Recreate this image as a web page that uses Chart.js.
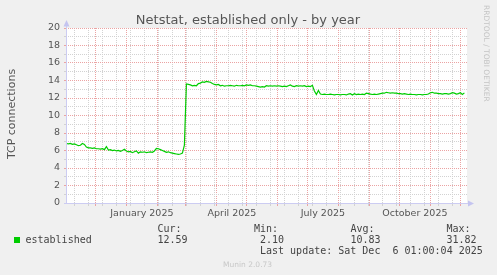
<!DOCTYPE html>
<html><head><meta charset="utf-8">
<script src="https://cdn.jsdelivr.net/npm/chart.js@4"></script>
<style>html,body{margin:0;padding:0;background:#f0f0f0;overflow:hidden}canvas{display:block}</style>
</head><body>
<canvas id="c" width="497" height="275"></canvas>
<script>
const chartTitle = 'Netstat, established only - by year';
const yAxisTitle = 'TCP connections';
const seriesName = 'established';

// samples every 2 days, day 1 = 2 Nov 2024
const valuesLate2024 = [
  6.8, 6.75, 6.8, 6.7, 6.75, 6.65, 6.55, 6.6, 6.8, 6.7,
  6.4, 6.3, 6.3, 6.25, 6.3, 6.2, 6.2, 6.15, 6.2, 6.1,
  6.45, 6.05, 6.1, 6.0, 6.05, 5.95, 6.0, 5.9, 6.0, 6.15,
  5.95, 5.85, 5.9, 5.75, 5.85, 5.95, 5.7, 5.85, 5.8, 5.85,
  5.75, 5.8, 5.85, 5.8, 5.95, 6.25, 6.2, 6.1, 6.0, 5.9,
  5.8, 5.85, 5.75, 5.7, 5.65, 5.6, 5.55, 5.6, 5.7, 6.6
];
const valuesSpring2025 = [
  13.6, 13.55, 13.5, 13.4, 13.45, 13.4, 13.65, 13.7, 13.85, 13.8,
  13.9, 13.85, 13.8, 13.65, 13.55, 13.5, 13.55, 13.4, 13.45, 13.35,
  13.4, 13.4, 13.45, 13.4, 13.35, 13.45, 13.4, 13.4, 13.45, 13.4,
  13.5, 13.45, 13.5, 13.4, 13.4, 13.35, 13.3, 13.25, 13.3, 13.25,
  13.4, 13.35, 13.4, 13.35, 13.4, 13.35, 13.4, 13.35, 13.3, 13.35,
  13.3, 13.4, 13.5, 13.35, 13.3, 13.4, 13.35, 13.4, 13.35, 13.4,
  13.3, 13.35, 13.3, 13.45, 12.8, 12.4, 12.85, 12.45
];
const valuesAutumn2025 = [
  12.4, 12.45, 12.4, 12.4, 12.45, 12.4, 12.35, 12.4, 12.4, 12.35,
  12.4, 12.4, 12.35, 12.45, 12.5, 12.35, 12.5, 12.4, 12.45, 12.4,
  12.45, 12.4, 12.55, 12.5, 12.45, 12.4, 12.45, 12.4, 12.45, 12.5,
  12.55, 12.55, 12.65, 12.6, 12.55, 12.6, 12.55, 12.55, 12.5, 12.5,
  12.45, 12.5, 12.45, 12.4, 12.45, 12.4, 12.4, 12.35, 12.4, 12.4,
  12.35, 12.4, 12.4, 12.45, 12.6, 12.65, 12.55, 12.55, 12.5, 12.5,
  12.45, 12.5, 12.5, 12.45, 12.5, 12.6, 12.55, 12.45, 12.5, 12.6,
  12.4, 12.59
];
const values = valuesLate2024.concat(valuesSpring2025, valuesAutumn2025);
const sampleDays = values.map((_, i) => 1 + 2 * i);

const yTickValues = [0,1,2,3,4,5,6,7,8,9,10,11,12,13,14,15,16,17,18,19,20];
const monthStartDays = [30, 61, 92, 120, 151, 181, 212, 242, 273, 304, 334, 365, 395];
const minorGridDays = [9,23,37,51,65,79,93,107,121,135,149,163,177,191,205,219,233,247,261,275,289,303,317,331,345,359,373,387];
const labelDays = [76.5, 166.5, 257.5, 349.5];
const labelTexts = ['January 2025', 'April 2025', 'July 2025', 'October 2025'];

const statNames = ['Cur:', 'Min:', 'Avg:', 'Max:'];
const statValues = ['12.59', '2.10', '10.83', '31.82'];
const lastUpdate = 'Last update: Sat Dec  6 01:00:04 2025';
const footer = 'Munin 2.0.73';
const sideText = 'RRDTOOL / TOBI OETIKER';

const RED = '#eba3a3';
const GRAY = '#d2d2d2';
const AXIS = '#ccccf2';
const GREEN = '#00cc00';

const decor = {
  id: 'decor',
  beforeDraw(chart) {
    const {ctx, chartArea: a} = chart;
    ctx.save();
    ctx.fillStyle = '#f0f0f0';
    ctx.fillRect(0, 0, chart.width, chart.height);
    ctx.fillStyle = '#ffffff';
    ctx.fillRect(a.left, a.top, a.right - a.left, a.bottom - a.top);
    ctx.restore();
  },
  afterDraw(chart) {
    const {ctx, chartArea: a} = chart;
    ctx.save();
    // axes
    ctx.strokeStyle = AXIS; ctx.lineWidth = 1;
    ctx.beginPath();
    ctx.moveTo(a.left + 0.5, a.top - 4); ctx.lineTo(a.left + 0.5, a.bottom + 0.5);
    ctx.moveTo(a.left - 2, a.bottom + 0.5); ctx.lineTo(a.right + 2, a.bottom + 0.5);
    ctx.stroke();
    ctx.fillStyle = '#c4c4f0';
    ctx.beginPath();
    ctx.moveTo(a.left + 0.5, a.top - 8); ctx.lineTo(a.left - 2.5, a.top - 1.5); ctx.lineTo(a.left + 3.5, a.top - 1.5);
    ctx.closePath(); ctx.fill();
    ctx.beginPath();
    ctx.moveTo(a.right + 7, a.bottom + 0.5); ctx.lineTo(a.right + 1, a.bottom - 2.5); ctx.lineTo(a.right + 1, a.bottom + 3.5);
    ctx.closePath(); ctx.fill();

    // title
    ctx.fillStyle = '#555';
    ctx.font = '13px "DejaVu Sans"';
    ctx.textAlign = 'center'; ctx.textBaseline = 'alphabetic';
    ctx.fillText(chartTitle, 248, 24);

    // y axis title
    ctx.save();
    ctx.translate(15.3, 114);
    ctx.rotate(-Math.PI / 2);
    ctx.font = '11px "DejaVu Sans"';
    ctx.fillText(yAxisTitle, 0, 0);
    ctx.restore();

    // side text
    ctx.save();
    ctx.translate(484, 5);
    ctx.rotate(Math.PI / 2);
    ctx.textAlign = 'left';
    ctx.fillStyle = '#c4c4c4';
    ctx.font = '7.5px "DejaVu Sans"';
    ctx.fillText(sideText, 0, 0);
    ctx.restore();

    // legend
    ctx.fillStyle = GREEN;
    ctx.fillRect(14, 237, 6, 6);
    ctx.fillStyle = '#444';
    ctx.textAlign = 'left';
    ctx.font = '10px "DejaVu Sans Mono"';
    ctx.fillText(seriesName, 25.5, 243);
    const nameX = [157.5, 254, 350.5, 446.5];
    const valX = [157.5, 260, 350.5, 446.5];
    statNames.forEach((n, i) => ctx.fillText(n, nameX[i], 232));
    statValues.forEach((v, i) => ctx.fillText(v, valX[i], 243));
    ctx.fillText(lastUpdate, 260, 254);

    ctx.fillStyle = '#c8c8c8';
    ctx.font = '7.5px "DejaVu Sans"';
    ctx.fillText(footer, 223, 267.3);
    ctx.restore();
  }
};

const gridColorX = (ctx) => {
  const v = ctx.tick ? ctx.tick.value : null;
  if (monthStartDays.includes(v)) return RED;
  if (minorGridDays.includes(v)) return GRAY;
  return 'rgba(0,0,0,0)';
};

new Chart(document.getElementById('c'), {
  type: 'line',
  data: {
    datasets: [{
      label: seriesName,
      data: sampleDays.map((d, i) => ({x: d, y: values[i]})),
      borderColor: GREEN,
      borderWidth: 1.2,
      pointRadius: 0,
      tension: 0,
      fill: false
    }]
  },
  options: {
    responsive: false,
    devicePixelRatio: 1,
    animation: false,
    layout: {padding: {top: 28, left: 0, right: 30, bottom: 0}},
    plugins: {legend: {display: false}, title: {display: false}, tooltip: {enabled: false}},
    scales: {
      x: {
        type: 'linear',
        min: 0.6, max: 401.6,
        afterFit(scale) { scale.height = 72; },
        afterBuildTicks(scale) {
          scale.ticks = minorGridDays.concat(monthStartDays, labelDays).map(v => ({value: v}));
        },
        ticks: {
          autoSkip: false, maxRotation: 0, minRotation: 0, padding: 1.5,
          color: '#555',
          font: {family: 'DejaVu Sans', size: 9.5},
          callback(v) { const k = labelDays.indexOf(v); return k >= 0 ? labelTexts[k] : ''; }
        },
        grid: {
          color: gridColorX, tickColor: gridColorX, tickLength: 3, lineWidth: 1
        },
        border: {display: false, dash: [1, 1]}
      },
      y: {
        type: 'linear',
        min: 0, max: 20,
        afterFit(scale) { scale.width = 66; },
        afterBuildTicks(scale) { scale.ticks = yTickValues.map(v => ({value: v})); },
        ticks: {
          autoSkip: false, padding: 4, color: '#555',
          font: {family: 'DejaVu Sans', size: 9.5},
          callback(v) { return v % 2 === 0 ? String(v) : ''; }
        },
        grid: {
          color: c => (c.tick && c.tick.value % 2 === 0) ? RED : GRAY,
          tickColor: c => (c.tick && c.tick.value % 2 === 0) ? RED : GRAY,
          tickLength: 2, lineWidth: 1
        },
        border: {display: false, dash: [1, 1]}
      }
    }
  },
  plugins: [decor]
});
</script>
</body></html>
